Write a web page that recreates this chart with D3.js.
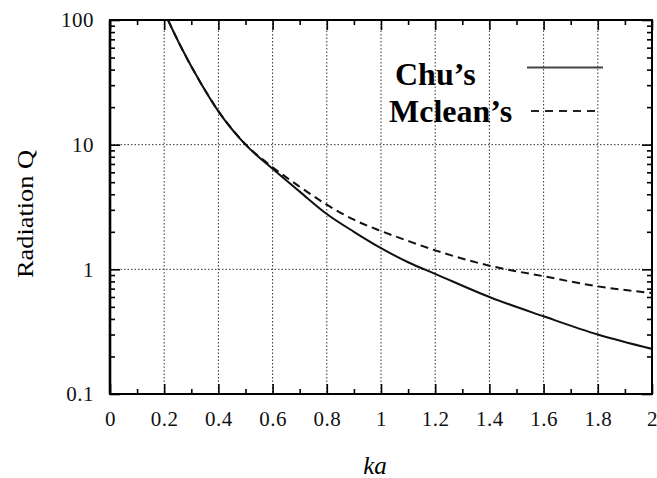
<!DOCTYPE html>
<html>
<head>
<meta charset="utf-8">
<script src="https://cdn.jsdelivr.net/npm/d3@7"></script>
<style>
  html, body { margin: 0; padding: 0; background: #fff; }
  svg { display: block; font-family: "Liberation Serif", "Times New Roman", serif; }
</style>
</head>
<body>
<svg id="chart" width="657" height="478"></svg>
<script>
// Radiation Q versus electrical size ka
const chuKa = [0.214, 0.265, 0.332, 0.4, 0.5, 0.6, 0.7, 0.8, 0.9, 1.0, 1.1, 1.2, 1.4, 1.6, 1.8, 2.0];
const chuQ  = [100, 59, 32, 18.5, 10, 6.4, 4.2, 2.78, 2.0, 1.48, 1.14, 0.92, 0.60, 0.42, 0.30, 0.23];
const mcleanKa = [0.214, 0.265, 0.332, 0.4, 0.5, 0.6, 0.7, 0.8, 0.9, 1.0, 1.1, 1.2, 1.4, 1.6, 1.8, 2.0];
const mcleanQ  = [100, 59, 32, 18.6, 10.1, 6.6, 4.6, 3.3, 2.5, 2.03, 1.69, 1.42, 1.07, 0.88, 0.73, 0.645];

const kaMajor = [0, 0.2, 0.4, 0.6, 0.8, 1.0, 1.2, 1.4, 1.6, 1.8, 2.0];
const kaMajorLabels = ["0", "0.2", "0.4", "0.6", "0.8", "1", "1.2", "1.4", "1.6", "1.8", "2"];
const kaMinor = [0.1, 0.3, 0.5, 0.7, 0.9, 1.1, 1.3, 1.5, 1.7, 1.9];
const qMajor = [0.1, 1, 10, 100];
const qMajorLabels = ["0.1", "1", "10", "100"];
const qMinor = [];
[0.1, 1, 10].forEach(d => { for (let m = 2; m <= 9; m++) qMinor.push(+(d * m).toPrecision(3)); });

const seriesNames = ["Chu\u2019s", "Mclean\u2019s"];

const margin = { left: 110, right: 5, top: 20, bottom: 84 };
const W = 657, H = 478;
const iw = W - margin.left - margin.right;
const ih = H - margin.top - margin.bottom;

const svg = d3.select("#chart");
const g = svg.append("g").attr("transform", `translate(${margin.left},${margin.top})`);

const x = d3.scaleLinear().domain([0, 2]).range([0, iw]);
const y = d3.scaleLog().domain([0.1, 100]).range([ih, 0]);

svg.append("defs").append("clipPath").attr("id", "plot")
  .append("rect").attr("width", iw).attr("height", ih);

// dotted grid
const grid = g.append("g").attr("stroke", "#333").attr("stroke-width", 1)
  .attr("stroke-dasharray", "1.5,2").attr("fill", "none");
grid.selectAll("line.v").data(kaMajor.slice(1, -1)).join("line")
  .attr("x1", d => x(d)).attr("x2", d => x(d)).attr("y1", 0).attr("y2", ih);
grid.selectAll("line.h").data(qMajor.slice(1, -1)).join("line")
  .attr("y1", d => y(d)).attr("y2", d => y(d)).attr("x1", 0).attr("x2", iw);

function styleAxis(sel) {
  sel.attr("font-family", null).attr("font-size", null);
  sel.select(".domain").remove();
  sel.selectAll(".tick line").attr("stroke", "#000").attr("stroke-width", 1.6);
  sel.selectAll(".tick text").attr("fill", "#111")
    .style("font-family", "'Liberation Serif', 'Times New Roman', serif")
    .style("font-size", "21px").style("letter-spacing", "0.5px");
}

// bottom axis with labels
g.append("g").attr("transform", `translate(0,${ih})`)
  .call(d3.axisBottom(x).tickValues(kaMajor).tickSize(-10).tickPadding(17)
    .tickFormat((d, i) => kaMajorLabels[i]))
  .call(styleAxis);
g.append("g").attr("transform", `translate(0,${ih})`)
  .call(d3.axisBottom(x).tickValues(kaMinor).tickSize(-5).tickFormat(""))
  .call(styleAxis);
// top axis
g.append("g")
  .call(d3.axisTop(x).tickValues(kaMajor).tickSize(-10).tickFormat(""))
  .call(styleAxis);
g.append("g")
  .call(d3.axisTop(x).tickValues(kaMinor).tickSize(-5).tickFormat(""))
  .call(styleAxis);
// left axis with labels
g.append("g")
  .call(d3.axisLeft(y).tickValues(qMajor).tickSize(-10).tickPadding(16)
    .tickFormat((d, i) => qMajorLabels[i]))
  .call(styleAxis);
g.append("g")
  .call(d3.axisLeft(y).tickValues(qMinor).tickSize(-5).tickFormat(""))
  .call(styleAxis);
// right axis
g.append("g").attr("transform", `translate(${iw},0)`)
  .call(d3.axisRight(y).tickValues(qMajor).tickSize(-10).tickFormat(""))
  .call(styleAxis);
g.append("g").attr("transform", `translate(${iw},0)`)
  .call(d3.axisRight(y).tickValues(qMinor).tickSize(-5).tickFormat(""))
  .call(styleAxis);

// frame
g.append("rect").attr("width", iw).attr("height", ih)
  .attr("fill", "none").attr("stroke", "#000").attr("stroke-width", 2);
g.append("line").attr("x1", 0).attr("x2", 0).attr("y1", 0).attr("y2", ih)
  .attr("stroke", "#000").attr("stroke-width", 2.6);

// curves
const line = d3.line().x(d => x(d[0])).y(d => y(d[1])).curve(d3.curveMonotoneX);
const curves = g.append("g").attr("clip-path", "url(#plot)").attr("fill", "none");
curves.append("path").datum(mcleanKa.map((k, i) => [k, mcleanQ[i]]))
  .attr("d", line).attr("stroke", "#111").attr("stroke-width", 2)
  .attr("stroke-dasharray", "8,5");
curves.append("path").datum(chuKa.map((k, i) => [k, chuQ[i]]))
  .attr("d", line).attr("stroke", "#111").attr("stroke-width", 2);

// legend
const legend = svg.append("g");
legend.append("text").attr("x", 395).attr("y", 85).text(seriesNames[0])
  .style("font-size", "32px").style("font-weight", "bold").attr("fill", "#000");
legend.append("text").attr("x", 389).attr("y", 121.5).text(seriesNames[1])
  .style("font-size", "32px").style("font-weight", "bold").attr("fill", "#000");
legend.append("line").attr("x1", 527).attr("x2", 603).attr("y1", 67.5).attr("y2", 67.5)
  .attr("stroke", "#444").attr("stroke-width", 2);
legend.append("line").attr("x1", 531).attr("x2", 598).attr("y1", 111).attr("y2", 111)
  .attr("stroke", "#222").attr("stroke-width", 2).attr("stroke-dasharray", "8,6");

// axis titles
svg.append("text").attr("transform", "translate(33,214) rotate(-90)")
  .attr("text-anchor", "middle").text("Radiation Q")
  .style("font-size", "23px").attr("textLength", 128).attr("lengthAdjust", "spacingAndGlyphs")
  .attr("fill", "#000");
svg.append("text").attr("x", 375).attr("y", 474).attr("text-anchor", "middle")
  .text("ka").style("font-size", "25px").style("font-style", "italic").attr("fill", "#000");
</script>
</body>
</html>
